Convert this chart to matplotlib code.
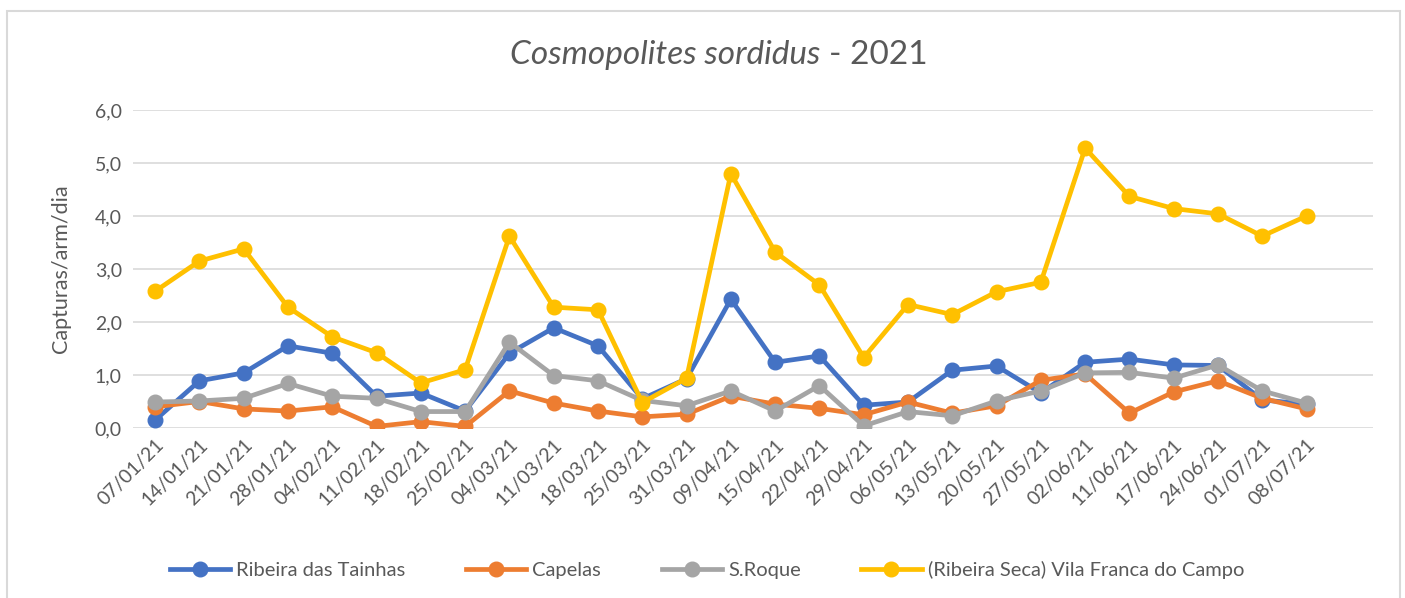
import matplotlib.pyplot as plt
from matplotlib.patches import Rectangle

plt.rcParams['font.family'] = ['Lato', 'DejaVu Sans']

datas = ["07/01/21", "14/01/21", "21/01/21", "28/01/21", "04/02/21", "11/02/21",
         "18/02/21", "25/02/21", "04/03/21", "11/03/21", "18/03/21", "25/03/21",
         "31/03/21", "09/04/21", "15/04/21", "22/04/21", "29/04/21", "06/05/21",
         "13/05/21", "20/05/21", "27/05/21", "02/06/21", "11/06/21", "17/06/21",
         "24/06/21", "01/07/21", "08/07/21"]

ribeira_tainhas = [0.15, 0.89, 1.04, 1.55, 1.41, 0.60, 0.66, 0.32, 1.41, 1.89, 1.55, 0.55,
                   0.93, 2.43, 1.24, 1.36, 0.43, 0.49, 1.09, 1.17, 0.66, 1.24, 1.30, 1.19,
                   1.18, 0.53, 0.45]
capelas = [0.40, 0.50, 0.36, 0.32, 0.40, 0.03, 0.12, 0.03, 0.70, 0.47, 0.32, 0.21,
           0.26, 0.60, 0.45, 0.37, 0.25, 0.49, 0.28, 0.42, 0.90, 1.02, 0.28, 0.68,
           0.89, 0.56, 0.36]
s_roque = [0.49, 0.51, 0.56, 0.84, 0.60, 0.56, 0.31, 0.31, 1.62, 0.99, 0.89, 0.52,
           0.42, 0.70, 0.32, 0.80, 0.04, 0.31, 0.23, 0.51, 0.70, 1.04, 1.05, 0.94,
           1.19, 0.70, 0.47]
vila_franca = [2.58, 3.15, 3.38, 2.28, 1.72, 1.42, 0.85, 1.10, 3.62, 2.28, 2.23, 0.48,
               0.94, 4.80, 3.32, 2.70, 1.33, 2.33, 2.14, 2.57, 2.75, 5.28, 4.37, 4.14,
               4.04, 3.62, 4.00]

series = [
    ("Ribeira das Tainhas", ribeira_tainhas, "#4472C4"),
    ("Capelas", capelas, "#ED7D31"),
    ("S.Roque", s_roque, "#A5A5A5"),
    ("(Ribeira Seca) Vila Franca do Campo", vila_franca, "#FFC000"),
]

txt = "#595959"
W, H = 1405, 598
fig = plt.figure(figsize=(W / 100, H / 100), dpi=100)
fig.patches.append(Rectangle((7 / W, -0.05), 1393 / W, 1.05 - 11 / H,
                             transform=fig.transFigure, fill=False,
                             edgecolor="#D9D9D9", lw=1.5))

ax = fig.add_axes([133 / W, (H - 428) / H, 1240 / W, 318 / H])
x = list(range(len(datas)))
for nome, vals, cor in series:
    ax.plot(x, vals, color=cor, lw=3.4, marker="o", markersize=10.5, label=nome)

ax.set_xlim(-0.5, len(datas) + 0.5)
ax.set_ylim(0, 6)
ax.set_yticks([0, 1, 2, 3, 4, 5, 6])
ax.set_yticklabels([f"{v:.1f}".replace(".", ",") for v in range(7)])
ax.set_xticks(x)
ax.set_xticklabels(datas, rotation=45, ha="right", rotation_mode="anchor")
ax.tick_params(length=0, labelsize=14, colors=txt, pad=8)
ax.tick_params(axis="x", pad=6)
ax.grid(axis="y", color="#D9D9D9", lw=1.2)
ax.set_axisbelow(True)
for s in ax.spines.values():
    s.set_visible(False)
ax.set_ylabel("Capturas/arm/dia", fontsize=15.5, color=txt, labelpad=17)

fig.text(820 / W, 1 - 55 / H, "Cosmopolites sordidus", style="italic",
         fontsize=24, color=txt, ha="right", va="center")
fig.text(829 / W, 1 - 55 / H, "- 2021", fontsize=24, color=txt,
         ha="left", va="center")

fig.legend(loc="center", bbox_to_anchor=(707 / W, 1 - 570 / H), ncol=4,
           frameon=False, fontsize=14.5, labelcolor=txt, handlelength=3,
           columnspacing=3, handletextpad=0.3)

fig.savefig("out.png", dpi=100)
